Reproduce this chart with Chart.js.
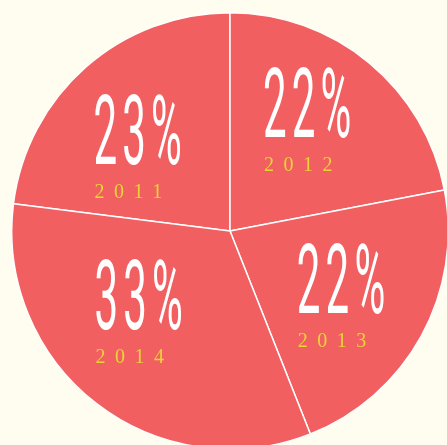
<!DOCTYPE html>
<html>
<head>
<meta charset="utf-8">
<script src="https://cdn.jsdelivr.net/npm/chart.js@4/dist/chart.umd.min.js"></script>
<style>
  html, body { margin: 0; padding: 0; background: #FFFDEF; width: 447px; height: 445px; overflow: hidden; }
  #c { position: absolute; left: 11px; top: 12px; }
</style>
</head>
<body>
<canvas id="c" width="438" height="438"></canvas>
<script>
const years = ['2011', '2012', '2013', '2014'];
const shares = [23, 22, 22, 33];
const percentLabels = ['23%', '22%', '22%', '33%'];

// label anchors (top-left of the big number) as fractions of the radius from the pie centre
const anchors = [[-0.626, -0.630], [0.151, -0.753], [0.306, 0.055], [-0.621, 0.128]];

const labelPlugin = {
  id: 'bigLabels',
  afterDatasetsDraw(chart) {
    const ctx = chart.ctx;
    const meta = chart.getDatasetMeta(0);
    meta.data.forEach((arc, i) => {
      const r = arc.outerRadius;
      const x = arc.x + anchors[i][0] * r;
      const top = arc.y + anchors[i][1] * r;
      ctx.save();
      ctx.fillStyle = '#FFFFFF';
      ctx.font = '400 97px Roboto';
      const ls = 12;
      ctx.letterSpacing = ls + 'px';
      ctx.textAlign = 'left';
      ctx.textBaseline = 'alphabetic';
      const m = ctx.measureText(percentLabels[i]);
      const sx = (0.405 * r) / (m.width - ls);
      ctx.translate(x, top + m.actualBoundingBoxAscent);
      ctx.scale(sx, 1);
      ctx.fillText(percentLabels[i], 0, 0);
      ctx.restore();

      ctx.save();
      ctx.fillStyle = '#E8D535';
      ctx.font = '20px "Liberation Serif"';
      ctx.letterSpacing = '9.5px';
      ctx.textAlign = 'left';
      ctx.textBaseline = 'alphabetic';
      ctx.fillText(years[i], x + 1, top + 104);
      ctx.restore();
    });
  }
};

new Chart(document.getElementById('c'), {
  type: 'pie',
  data: {
    labels: years,
    datasets: [{
      data: shares,
      backgroundColor: '#F15F61',
      borderColor: '#FFFFFF',
      borderWidth: 1.5,
      hoverOffset: 0
    }]
  },
  options: {
    responsive: false,
    animation: false,
    rotation: -shares[0] / 100 * 360,
    layout: { padding: 0 },
    plugins: { legend: { display: false }, tooltip: { enabled: false } }
  },
  plugins: [labelPlugin]
});
</script>
</body>
</html>
